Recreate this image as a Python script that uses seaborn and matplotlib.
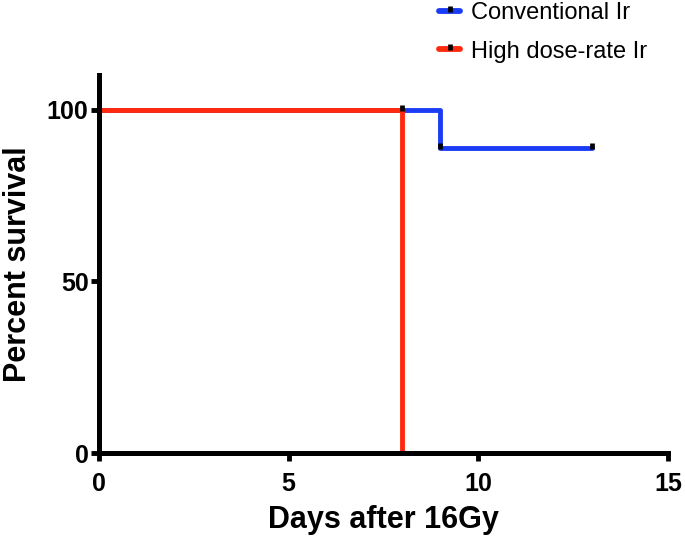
import matplotlib
matplotlib.use("Agg")
import matplotlib.pyplot as plt
import seaborn as sns
import pandas as pd
from matplotlib.lines import Line2D
from matplotlib.path import Path

sns.set_style("ticks")
plt.rcParams['font.family'] = ['Liberation Sans', 'DejaVu Sans']
plt.rcParams['text.color'] = 'black'
plt.rcParams['axes.labelcolor'] = 'black'
plt.rcParams['xtick.color'] = 'black'
plt.rcParams['ytick.color'] = 'black'
plt.rcParams['axes.edgecolor'] = 'black'

conv_days = [0, 8, 9, 13]
conv_surv = [100, 100, 88.9, 88.9]
conv_cens_days = [8, 9, 13]
conv_cens_surv = [100, 88.9, 88.9]

high_days = [0, 8, 8]
high_surv = [100, 100, 0]

series_names = ["Conventional Ir", "High dose-rate Ir"]
colors = ["#1a3cf5", "#ff2a0e"]

xticks = [0, 5, 10, 15]
yticks = [0, 50, 100]

df = pd.concat([
    pd.DataFrame({"day": conv_days, "surv": conv_surv, "group": series_names[0]}),
    pd.DataFrame({"day": high_days, "surv": high_surv, "group": series_names[1]}),
], ignore_index=True)

cens_marker = Path([(0, -0.25), (0, 1.0)])

fig = plt.figure(figsize=(6.85, 5.37), dpi=100)
ax = fig.add_axes([0.1445, 0.1564, 0.8305, 0.7036])

sns.lineplot(data=df, x="day", y="surv", hue="group", palette=colors,
             drawstyle="steps-post", linewidth=3.5, estimator=None, sort=False,
             legend=False, ax=ax)
sns.scatterplot(x=conv_cens_days, y=conv_cens_surv, marker=cens_marker,
                edgecolor="black", facecolor="black", s=55, linewidth=3.4, ax=ax, zorder=5)

ax.set_xlim(0, 15)
ax.set_ylim(0, 110)
ax.set_xticks(xticks)
ax.set_yticks(yticks)
ax.tick_params(axis="both", width=3.5, length=6, labelsize=18)
ax.tick_params(axis="x", pad=7.5)
ax.tick_params(axis="y", pad=1.5)
for lab in ax.get_xticklabels() + ax.get_yticklabels():
    lab.set_fontweight("bold")
for s in ["left", "bottom"]:
    ax.spines[s].set_linewidth(3.6)
sns.despine(ax=ax)
ax.spines["left"].set_bounds(0, 110)
ax.spines["bottom"].set_bounds(0, 15)

ax.set_xlabel("Days after 16Gy", fontsize=22, fontweight="bold", labelpad=7)
ax.set_ylabel("Percent survival", fontsize=22, fontweight="bold", labelpad=10)

handles = [
    (Line2D([0], [0], color=c, lw=4.2),
     Line2D([0], [0], color="black", lw=0, marker=cens_marker, markersize=7,
            markeredgewidth=3.4, markeredgecolor="black"))
    for c in colors
]
leg = fig.legend(handles, series_names, loc="upper left", bbox_to_anchor=(0.61, 1.035),
                 frameon=False, fontsize=17, handlelength=0.9, handletextpad=0.45,
                 labelspacing=0.68)

fig.savefig("out.png", dpi=100)
